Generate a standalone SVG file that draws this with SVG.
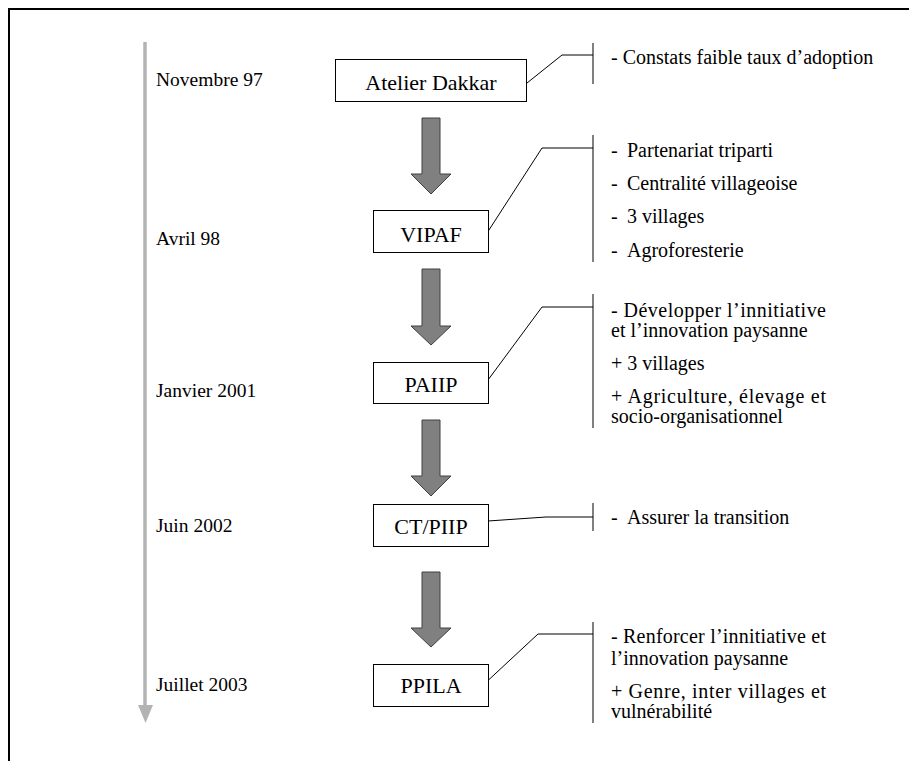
<svg xmlns="http://www.w3.org/2000/svg" width="909" height="761" viewBox="0 0 909 761">
<style>
.frame{fill:none;stroke:#000;stroke-width:2}
.tl{stroke:#b3b3b3;stroke-width:3.5;fill:none}
.tlh{fill:#b3b3b3}
.box{fill:#fff;stroke:#000;stroke-width:1}
.bt{font-family:"Liberation Serif","Times New Roman",serif;font-size:22px;fill:#000;text-anchor:middle}
.dt{font-family:"Liberation Serif","Times New Roman",serif;font-size:19.5px;fill:#000}
.it{font-family:"Liberation Serif","Times New Roman",serif;font-size:20px;fill:#000}
.big{fill:#808080;stroke:#404040;stroke-width:1}
.ln{fill:none;stroke:#000;stroke-width:1}
</style>
<rect x="0" y="0" width="909" height="761" fill="#fff"/>
<path class="frame" d="M9,761 V9 H909"/>

<g id="timeline">
<line class="tl" x1="145" y1="42" x2="145" y2="707"/>
<polygon class="tlh" points="138,705 153,705 145.5,723"/>
<text class="dt" x="156" y="86">Novembre 97</text>
<text class="dt" x="156" y="245">Avril 98</text>
<text class="dt" x="156" y="397">Janvier 2001</text>
<text class="dt" x="156" y="532">Juin 2002</text>
<text class="dt" x="156" y="691">Juillet 2003</text>
</g>

<g id="arrows">
<path class="big" d="M422,118 H440 V174 H451 L431,194 L411,174 H422 Z"/>
<path class="big" d="M422,269 H440 V326 H451 L431,345 L411,326 H422 Z"/>
<path class="big" d="M422,420 H440 V476 H451 L431,496 L411,476 H422 Z"/>
<path class="big" d="M422,572 H440 V628 H451 L431,647 L411,628 H422 Z"/>
</g>

<g id="connectors">
<path class="ln" d="M527,83 L562,55 H593"/>
<line class="ln" x1="593" y1="43" x2="593" y2="84"/>
<path class="ln" d="M487,233 L542,148 H593"/>
<line class="ln" x1="593" y1="135" x2="593" y2="262"/>
<path class="ln" d="M488,380 L542,307 H593"/>
<line class="ln" x1="593" y1="294" x2="593" y2="428"/>
<path class="ln" d="M488,521 L546,517 H593"/>
<line class="ln" x1="593" y1="503" x2="593" y2="531"/>
<path class="ln" d="M481,687 L538,634 H593"/>
<line class="ln" x1="593" y1="622" x2="593" y2="723"/>
</g>

<g id="atelier">
<rect class="box" x="335.5" y="59.5" width="191" height="42"/>
<text class="bt" x="431" y="90">Atelier Dakkar</text>
</g>
<g id="vipaf">
<rect class="box" x="373.5" y="210.5" width="115" height="42"/>
<text class="bt" x="431" y="242">VIPAF</text>
</g>
<g id="paiip">
<rect class="box" x="373.5" y="362.5" width="115" height="41"/>
<text class="bt" x="431" y="392">PAIIP</text>
</g>
<g id="ctpiip">
<rect class="box" x="373.5" y="504.5" width="115" height="42"/>
<text class="bt" x="431" y="534">CT/PIIP</text>
</g>
<g id="ppila">
<rect class="box" x="373.5" y="664.5" width="115" height="42"/>
<text class="bt" x="431" y="693">PPILA</text>
</g>

<g id="notes-atelier">
<text class="it" x="611" y="64">- Constats faible taux d’adoption</text>
</g>
<g id="notes-vipaf">
<text class="it" x="611" y="157">-</text><text class="it" x="627" y="157">Partenariat triparti</text>
<text class="it" x="611" y="190">-</text><text class="it" x="627" y="190">Centralité villageoise</text>
<text class="it" x="611" y="223">-</text><text class="it" x="627" y="223">3 villages</text>
<text class="it" x="611" y="257">-</text><text class="it" x="627" y="257">Agroforesterie</text>
</g>
<g id="notes-paiip">
<text class="it" x="611" y="317" textLength="215" lengthAdjust="spacing">-  Développer  l’innitiative</text>
<text class="it" x="611" y="337">et l’innovation paysanne</text>
<text class="it" x="611" y="370">+ 3 villages</text>
<text class="it" x="611" y="403" textLength="215" lengthAdjust="spacing">+  Agriculture,  élevage  et</text>
<text class="it" x="611" y="423">socio-organisationnel</text>
</g>
<g id="notes-ctpiip">
<text class="it" x="611" y="524">-</text><text class="it" x="627" y="524">Assurer la transition</text>
</g>
<g id="notes-ppila">
<text class="it" x="611" y="643" textLength="215" lengthAdjust="spacing">-  Renforcer l’innitiative et</text>
<text class="it" x="611" y="665">l’innovation paysanne</text>
<text class="it" x="611" y="698" textLength="215" lengthAdjust="spacing">+ Genre, inter villages et</text>
<text class="it" x="611" y="718">vulnérabilité</text>
</g>
</svg>
